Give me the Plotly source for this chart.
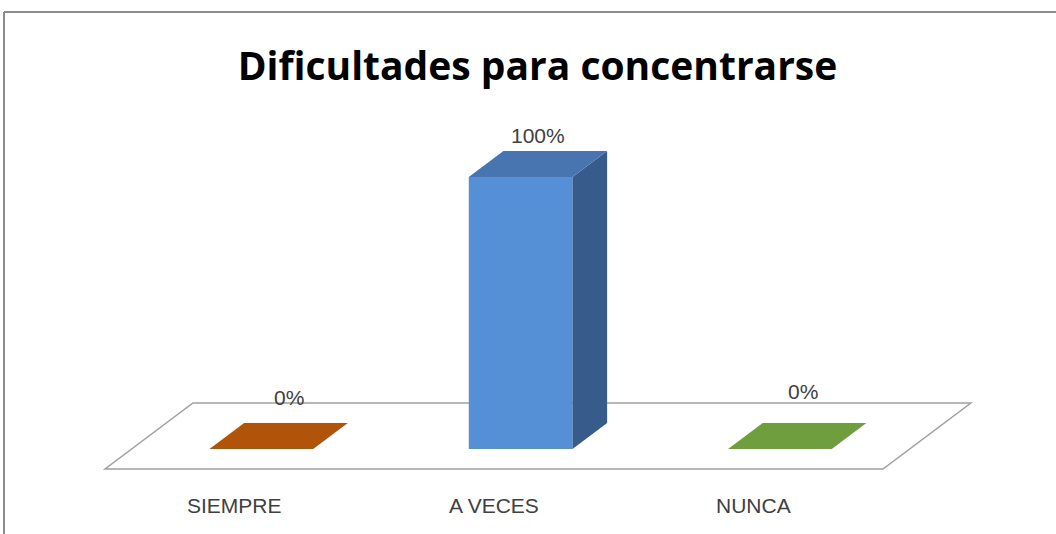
import plotly.graph_objects as go

# ---- data ----
categories = ["SIEMPRE", "A VECES", "NUNCA"]
values = [0, 100, 0]
value_labels = ["0%", "100%", "0%"]

# ---- styles ----
front_colors = ["#C0620F", "#5590D6", "#78AA44"]
top_colors = ["#B0540A", "#4874B0", "#6E9E3E"]
side_colors = ["#8A4008", "#375B8B", "#557A2E"]
label_shift = [(10, 39), (0, 29), (6, 45)]  # (xshift, yshift) px for value labels

# 3D projection parameters (axis units)
DEPTH_X = 0.339      # x shift across full floor depth (category units)
DEPTH_Y = 24.26      # y shift across full floor depth (value units)
T_FRONT = 0.303      # bar front plane as fraction of floor depth
T_BACK = 0.697       # bar back plane
BAR_W = 0.4

n = len(categories)
fx = T_FRONT * DEPTH_X
fy = T_FRONT * DEPTH_Y
ddx = (T_BACK - T_FRONT) * DEPTH_X
ddy = (T_BACK - T_FRONT) * DEPTH_Y

fig = go.Figure()

# front faces
fig.add_trace(go.Bar(
    x=[i + fx for i in range(n)], y=values, base=[fy] * n, width=BAR_W,
    marker=dict(color=front_colors, line=dict(width=0)),
    hoverinfo="skip", showlegend=False,
))

for i, v in enumerate(values):
    xl = i + fx - BAR_W / 2
    xr = i + fx + BAR_W / 2
    top = fy + v
    # side face
    if v > 0:
        fig.add_trace(go.Scatter(
            x=[xr, xr, xr + ddx, xr + ddx, xr],
            y=[fy, top, top + ddy, fy + ddy, fy],
            fill="toself", fillcolor=side_colors[i], mode="lines",
            line=dict(width=0, color=side_colors[i]), hoverinfo="skip", showlegend=False,
        ))
    # top face
    fig.add_trace(go.Scatter(
        x=[xl, xr, xr + ddx, xl + ddx, xl],
        y=[top, top, top + ddy, top + ddy, top],
        fill="toself", fillcolor=top_colors[i], mode="lines",
        line=dict(width=0, color=top_colors[i]), hoverinfo="skip", showlegend=False,
    ))

annotations = []
for i, v in enumerate(values):
    annotations.append(dict(
        x=i + (T_FRONT + T_BACK) / 2 * DEPTH_X, y=v + (T_FRONT + T_BACK) / 2 * DEPTH_Y,
        text=value_labels[i], showarrow=False, xref="x", yref="y",
        xshift=label_shift[i][0], yshift=label_shift[i][1],
        font=dict(family="Liberation Sans", size=21, color="#404040"),
    ))
    annotations.append(dict(
        x=i, y=0, text=categories[i], showarrow=False, xref="x", yref="y",
        yshift=-36, font=dict(family="Liberation Sans", size=21, color="#404040"),
    ))

# floor parallelogram
x0, x1 = -0.5, n - 0.5
floor_path = (f"M {x0},0 L {x1},0 L {x1 + DEPTH_X},{DEPTH_Y} "
              f"L {x0 + DEPTH_X},{DEPTH_Y} Z")
shapes = [
    dict(type="path", path=floor_path, xref="x", yref="y", layer="below",
         line=dict(color="#A0A0A0", width=1.5), fillcolor="rgba(0,0,0,0)"),
    # chart border
    dict(type="line", xref="paper", yref="paper", x0=4 / 1056, x1=1.01,
         y0=1 - 12 / 534, y1=1 - 12 / 534, line=dict(color="#8C8C8C", width=2)),
    dict(type="line", xref="paper", yref="paper", x0=4 / 1056, x1=4 / 1056,
         y0=-0.01, y1=1 - 12 / 534, line=dict(color="#8C8C8C", width=2)),
]

fig.update_layout(
    width=1056, height=534,
    margin=dict(l=0, r=0, t=0, b=0),
    paper_bgcolor="white", plot_bgcolor="white",
    title=dict(text="<b>Dificultades para concentrarse</b>", x=0.509, y=0.875,
               xanchor="center", yanchor="middle",
               font=dict(family="Open Sans", size=39, color="#000000")),
    xaxis=dict(range=[-234.7 / 259.3, (1056 - 234.7) / 259.3], visible=False, fixedrange=True),
    yaxis=dict(range=[(469 - 534) / 2.72, 469 / 2.72], visible=False, fixedrange=True),
    annotations=annotations, shapes=shapes, showlegend=False,
)

fig.write_html("out.html", config={"displayModeBar": False},
               post_script="document.body.style.margin='0';document.body.style.overflow='hidden';")
